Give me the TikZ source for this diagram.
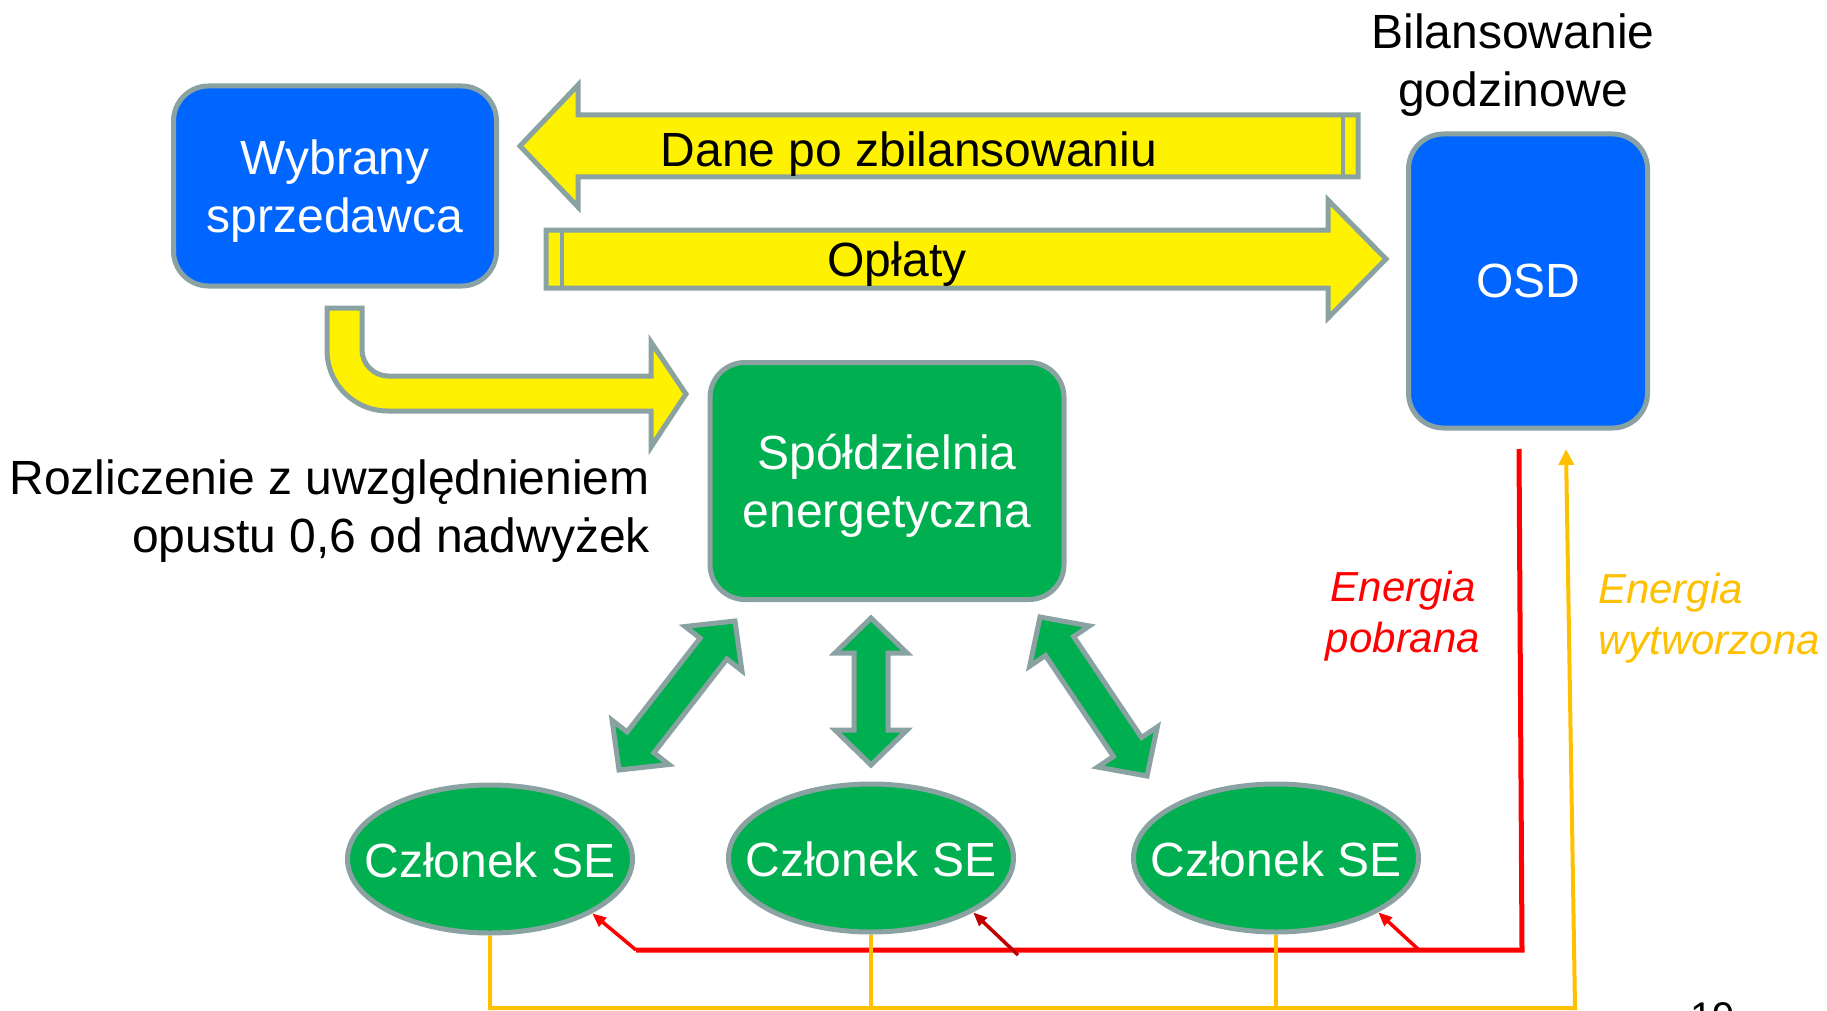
\documentclass[tikz,border=0pt]{standalone}
\usepackage{fontspec}
\setmainfont{Liberation Sans}
\usetikzlibrary{calc,arrows.meta,shapes.geometric}

\definecolor{rim}{RGB}{138,162,162}
\definecolor{osdblue}{RGB}{0,102,255}
\definecolor{segreen}{RGB}{0,176,80}
\definecolor{amber}{RGB}{255,192,0}
\definecolor{darkred}{RGB}{192,0,0}

\newcommand\bigfont{\fontsize{48}{58}\selectfont}
\newcommand\labelfont{\fontsize{42}{51}\selectfont\itshape}

% wide arrow: tail, tip, half shaft, half head, head length, style
\newcommand\widearrow[6]{%
  \draw[#6] ($(#1)!#3!90:(#2)$) -- ($(#2)!#5!(#1)!#3!270:(#1)$) --
    ($(#2)!#5!(#1)!#4!270:(#1)$) -- (#2) --
    ($(#2)!#5!(#1)!#4!90:(#1)$) -- ($(#2)!#5!(#1)!#3!90:(#1)$) --
    ($(#1)!#3!270:(#2)$) -- cycle;}

% double arrow between two tips
\newcommand\twowayarrow[2]{%
  \draw[link] (#1) -- ($(#1)!35pt!(#2)!36pt!90:(#2)$) -- ($(#1)!35pt!(#2)!17pt!90:(#2)$) --
    ($(#2)!35pt!(#1)!17pt!270:(#1)$) -- ($(#2)!35pt!(#1)!36pt!270:(#1)$) -- (#2) --
    ($(#2)!35pt!(#1)!36pt!90:(#1)$) -- ($(#2)!35pt!(#1)!17pt!90:(#1)$) --
    ($(#1)!35pt!(#2)!17pt!270:(#2)$) -- ($(#1)!35pt!(#2)!36pt!270:(#2)$) -- cycle;}

\begin{document}
\begin{tikzpicture}[
  x=1pt, y=-1pt,
  box/.style={rectangle, rounded corners=35pt, draw=rim, line width=5pt, text=white, align=center, font=\bigfont},
  boxtext/.style={text=white, align=center, font=\bigfont, inner sep=0pt, yshift=-5pt},
  member/.style={ellipse, draw=rim, line width=5pt, fill=segreen, minimum width=285pt, minimum height=148pt},
  note/.style={inner sep=0pt, font=\bigfont},
  tag/.style={inner sep=0pt, font=\labelfont},
  flow/.style={fill=yellow, draw=rim, line width=5pt},
  link/.style={fill=segreen, draw=rim, line width=5pt},
  taken/.style={red, line width=5pt},
  feed/.style={red, line width=3.5pt, -{Triangle[length=14pt, width=11pt]}},
  made/.style={amber, line width=4pt}
]
\useasboundingbox (0,0) rectangle (1827,1011);

% boxes
\node[box, fill=osdblue, minimum width=323pt, minimum height=200pt,
  label={[boxtext]center:Wybrany\\sprzedawca}] (seller) at (335,186) {};
\node[box, fill=osdblue, minimum width=239pt, minimum height=294pt] (osd) at (1528,281) {OSD};
\node[box, fill=segreen, minimum width=354pt, minimum height=237pt,
  label={[boxtext]center:Spółdzielnia\\energetyczna}] (coop) at (887,481) {};

\node[member, label={[boxtext, yshift=4pt]center:Członek SE}] (m1) at (490,859) {};
\node[member, label={[boxtext, yshift=4pt]center:Członek SE}] (m2) at (871,858) {};
\node[member, label={[boxtext, yshift=4pt]center:Członek SE}] (m3) at (1276,858) {};

\node[note, align=center] (balance) at (1513,65) {Bilansowanie\\godzinowe};
\node[note, align=right, anchor=east] (settle) at (650,511) {Rozliczenie z uwzględnieniem\\opustu 0,6 od nadwyżek};

% yellow flows
\coordinate (daneTail) at (1358,146);
\coordinate (daneTip) at (520,146);
\coordinate (oplatyTail) at (546,259);
\coordinate (oplatyTip) at (1386,259);
\widearrow{daneTail}{daneTip}{31pt}{61pt}{58pt}{flow}
\widearrow{oplatyTail}{oplatyTip}{29pt}{59pt}{58pt}{flow}
\draw[rim, line width=4pt] (1343,117) -- (1343,175);
\draw[rim, line width=4pt] (562,232) -- (562,286);
\node[note] (dane) at (909,154) {Dane po zbilansowaniu};
\node[note] (oplaty) at (897,264) {Opłaty};

\draw[flow] (327,308) -- (362,308) -- (362,350) .. controls (362,364) and (374,376) .. (388,376)
  -- (651,376) -- (651,342) -- (686,394) -- (651,447) -- (651,411) -- (388,411)
  .. controls (354,411) and (327,384) .. (327,350) -- cycle;

% green links
\coordinate (l1a) at (735,621);
\coordinate (l1b) at (619,770);
\coordinate (l2a) at (871,618);
\coordinate (l2b) at (871,765);
\coordinate (l3a) at (1040,617);
\coordinate (l3b) at (1147,776);
\twowayarrow{l1a}{l1b}
\twowayarrow{l2a}{l2b}
\twowayarrow{l3a}{l3b}

% energy lines
\coordinate (redTop) at (1519,449);
\coordinate (redCorner) at (1522,950);
\coordinate (bus1) at (636,950);
\coordinate (bus2) at (1018,955);
\coordinate (bus3) at (1419,950);
\draw[taken] (redTop) -- (redCorner) -- (bus1);
\draw[feed] (bus1) -- (m1.-28);
\draw[feed, darkred] (bus2) -- (m2.-28);
\draw[feed] (bus3) -- (m3.-28);

\coordinate (amberRight) at (1575,1008);
\coordinate (amberTip) at (1566,449);
\draw[made, -{Triangle[length=16pt, width=15pt]}] (m1.south) |- (amberRight) -- (amberTip);
\draw[made] (m2.south) -- (m2.south |- amberRight);
\draw[made] (m3.south) -- (m3.south |- amberRight);

\node[tag, text=red, align=center] (pobrana) at (1403,616) {Energia\\pobrana};
\node[tag, text=amber, align=left, anchor=west] (wytworzona) at (1598,618) {Energia\\wytworzona};

\node[anchor=base west, inner sep=0pt, font=\fontsize{40}{48}\selectfont] (page) at (1690,1030) {19};
\end{tikzpicture}
\end{document}
